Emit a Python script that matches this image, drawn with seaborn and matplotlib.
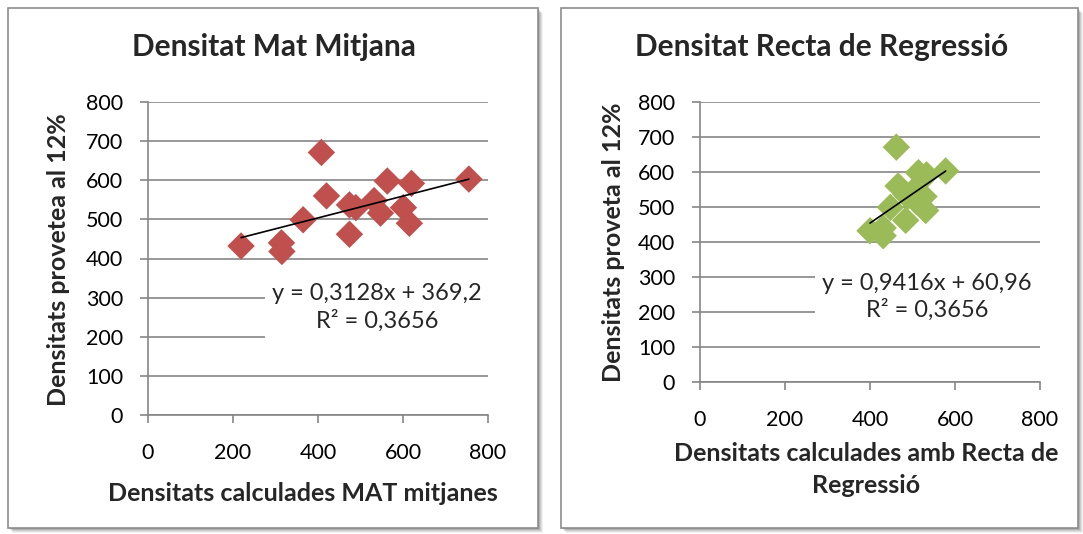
import matplotlib
matplotlib.use("Agg")
import matplotlib.pyplot as plt
from matplotlib.patches import Rectangle
import seaborn as sns
import pandas as pd

# ---- data ----
left_x = [219, 314, 315, 365, 408, 420, 474, 489, 474, 532, 547, 563, 601, 615, 620, 755]
left_y = [432, 440, 418, 499, 671, 560, 537, 530, 462, 548, 516, 598, 530, 490, 592, 603]
right_x = [400, 431, 431, 448, 462, 466, 484, 489, 484, 504, 509, 514, 527, 531, 533, 578]
right_y = [432, 440, 418, 499, 671, 560, 537, 530, 462, 548, 516, 598, 530, 490, 592, 603]

ticks = [0, 100, 200, 300, 400, 500, 600, 700, 800]
xticks = [0, 200, 400, 600, 800]

titles = ["Densitat Mat Mitjana", "Densitat Recta de Regressió"]
xlabels = ["Densitats calculades MAT mitjanes", "Densitats calculades amb Recta de\nRegressió"]
ylabels = ["Densitats provetea al 12%", "Densitats proveta al 12%"]
equations = ["y = 0,3128x + 369,2\nR² = 0,3656", "y = 0,9416x + 60,96\nR² = 0,3656"]
colors = ["#C0504D", "#9BBB59"]

sns.set_theme(style="white")
plt.rcParams['font.family'] = ['Lato', 'DejaVu Sans']

W, H = 1083, 534
fig = plt.figure(figsize=(W / 100, H / 100), dpi=100)
fig.patch.set_facecolor("white")

def px(x0, y0, x1, y1):
    return [x0 / W, 1 - y1 / H, (x1 - x0) / W, (y1 - y0) / H]

# panel frames with shadow
for (x0, y0, x1, y1) in [(8, 8, 538, 528), (561, 8, 1078, 528)]:
    for k, a in enumerate([0.05, 0.07, 0.09, 0.11, 0.13]):
        off = 5 - k
        fig.patches.append(Rectangle(((x0 + off) / W, 1 - (y1 + off) / H),
                                     (x1 - x0) / W, (y1 - y0) / H,
                                     transform=fig.transFigure, facecolor="black",
                                     alpha=a, edgecolor="none", zorder=0))
    fig.patches.append(Rectangle((x0 / W, 1 - y1 / H), (x1 - x0) / W, (y1 - y0) / H,
                                 transform=fig.transFigure, facecolor="white",
                                 edgecolor="#8c8c8c", linewidth=1.2, zorder=1))

axes_pos = [px(148, 102, 488, 415), px(700, 102, 1040, 382)]
title_pos = [(0.371, 1.176), (0.359, 1.197)]
ylabel_pos = [(-0.262, 0.495), (-0.255, 0.50)]
xlabel_pos = [(0.456, -0.25), (0.488, -0.313)]
eq_pos = [(539, 274), (534, 243)]
box_x0 = [275, 270]

datasets = [(left_x, left_y), (right_x, right_y)]
grid_c = "#868686"

for i in range(2):
    ax = fig.add_axes(axes_pos[i])
    ax.set_facecolor("none")
    ax.set_zorder(2)
    df = pd.DataFrame({"x": datasets[i][0], "y": datasets[i][1]})
    sns.scatterplot(data=df, x="x", y="y", ax=ax, marker="D", s=195,
                    color=colors[i], edgecolor="none", zorder=3)
    sns.regplot(data=df, x="x", y="y", ax=ax, scatter=False, ci=None, truncate=True,
                line_kws=dict(color="black", lw=1.2, zorder=4))
    ax.set_xlim(0, 800)
    ax.set_ylim(0, 800)
    ax.set_xticks(xticks)
    ax.set_yticks(ticks)
    ax.grid(axis="y", color=grid_c, lw=1.2, zorder=0)
    ax.set_axisbelow(True)
    for s in ["top", "right"]:
        ax.spines[s].set_visible(False)
    for s in ["left", "bottom"]:
        ax.spines[s].set_color(grid_c)
        ax.spines[s].set_linewidth(1.2)
    ax.tick_params(axis="both", direction="out", length=6, width=1.2, color=grid_c,
                   labelsize=15.5, labelcolor="black")
    ax.tick_params(axis="y", pad=12, left=True)
    ax.tick_params(axis="x", pad=14, bottom=True)
    # equation box covering the gridlines
    ax.add_patch(Rectangle((box_x0[i], 175 if i == 0 else 170), 800 - box_x0[i], 190,
                           facecolor="white", edgecolor="none", zorder=1))
    ax.text(eq_pos[i][0], eq_pos[i][1], equations[i], ha="center", va="center",
            fontsize=17, linespacing=1.3, zorder=2)
    ax.text(title_pos[i][0], title_pos[i][1], titles[i], transform=ax.transAxes,
            ha="center", va="center", fontsize=21.5, fontweight="bold")
    ax.set_xlabel(xlabels[i], fontsize=18, fontweight="bold", linespacing=1.5)
    ax.set_ylabel(ylabels[i], fontsize=18, fontweight="bold")
    ax.xaxis.set_label_coords(*xlabel_pos[i])
    ax.yaxis.set_label_coords(*ylabel_pos[i])
    ax.xaxis.label.set_va("center")
    ax.yaxis.label.set_va("center")

fig.savefig("out.png", dpi=100)
